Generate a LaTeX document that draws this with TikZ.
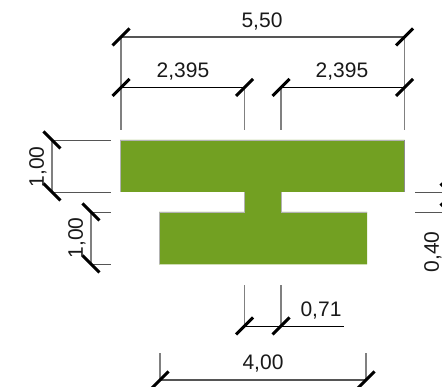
\documentclass[tikz,border=0pt]{standalone}
\usepackage{fontspec}
\setmainfont{Liberation Sans}
\definecolor{flange}{HTML}{72A022}
\definecolor{lineg}{HTML}{808080}
\definecolor{lined}{HTML}{555555}
\tikzset{
  dimtext/.style={font=\fontsize{21}{21}\selectfont,text=black!90,inner sep=0pt},
  extline/.style={draw=lineg,line width=1.1pt},
  dimline/.style={draw=lined,line width=1.1pt},
  thinline/.style={draw=black,line width=.9pt},
  sideline/.style={draw=lined,line width=.9pt},
  tickmark/.style={draw=black,line width=2.9pt},
  steel/.style={fill=flange,draw=none},
  rim/.style={draw=black!30,line width=.6pt}
}
\newcommand{\tickup}[1]{\draw[tickmark] ([shift={(-8.5,8.5)}]#1) -- ([shift={(8.5,-8.5)}]#1);}
\newcommand{\tickdn}[1]{\draw[tickmark] ([shift={(-8.5,-8.5)}]#1) -- ([shift={(8.5,8.5)}]#1);}
\begin{document}
\begin{tikzpicture}[x=1pt,y=-1pt]
\useasboundingbox (0,0) rectangle (442,387);
\clip (0,0) rectangle (442,387);
% section
\fill[steel] (120,140) -- (404.5,140) -- (404.5,192) -- (281.5,192) -- (281.5,212) -- (367,212) -- (367,264.5) -- (159,264.5) -- (159,212) -- (244,212) -- (244,192) -- (120,192) -- cycle;
\draw[rim] (120,192) -- (120,140) -- (404.5,140);
\draw[draw=black!45,line width=.7pt] (404.8,140) -- (404.8,192);
\draw[rim] (159,264) -- (159,212) -- (244,212) -- (244,192);
\draw[rim] (281.5,192) -- (281.5,212) -- (367,212);
% coordinates
\coordinate (aL) at (121,37);
\coordinate (aR) at (404.5,37);
\coordinate (bL) at (121,87.5);
\coordinate (bM) at (244.5,87.5);
\coordinate (cM) at (281,87.5);
\coordinate (cR) at (404.5,87.5);
\coordinate (aLe) at (121,130);
\coordinate (aRe) at (404.5,130);
\coordinate (bMe) at (244.5,130);
\coordinate (cMe) at (281,130);
\coordinate (dT) at (52,140);
\coordinate (dB) at (52,192);
\coordinate (dTe) at (111,140);
\coordinate (dBe) at (111,192);
\coordinate (eT) at (91,212);
\coordinate (eB) at (91,264);
\coordinate (eTe) at (111,212);
\coordinate (eBe) at (111,264);
\coordinate (fT) at (449,192);
\coordinate (fB) at (449,212);
\coordinate (fTe) at (415,192);
\coordinate (fBe) at (415,212);
\coordinate (gL) at (244.5,326);
\coordinate (gR) at (281,326);
\coordinate (gE) at (344,326);
\coordinate (gLe) at (244.5,285);
\coordinate (gRe) at (281,285);
\coordinate (hL) at (160,380);
\coordinate (hR) at (366,380);
\coordinate (hLe) at (160,353);
\coordinate (hRe) at (366,353);
% extension lines
\draw[extline] (aL) -- (aLe);
\draw[extline] (aR) -- (aRe);
\draw[extline] (bM) -- (bMe);
\draw[extline] (cM) -- (cMe);
\draw[extline] (dT) -- (dB);
\draw[extline] (eT) -- (eB);
\draw[extline] (gL) -- (gLe);
\draw[extline] (gR) -- (gRe);
\draw[extline] (hL) -- (hLe);
\draw[extline] (hR) -- (hRe);
% dimension lines
\draw[dimline] (aL) -- (aR);
\draw[dimline] (hL) -- (hR);
\draw[thinline] (bL) -- (bM);
\draw[thinline] (cM) -- (cR);
\draw[thinline] (gL) -- (gE);
\draw[sideline] (dT) -- (dTe);
\draw[sideline] (dB) -- (dBe);
\draw[sideline] (eT) -- (eTe);
\draw[sideline] (eB) -- (eBe);
\draw[sideline] (fT) -- (fTe);
\draw[sideline] (fB) -- (fBe);
% ticks
\tickup{aL}\tickup{aR}\tickup{bL}\tickup{bM}\tickup{cM}\tickup{cR}
\tickup{gL}\tickup{gR}\tickup{hL}\tickup{hR}
\tickdn{dT}\tickdn{dB}\tickdn{eT}\tickdn{eB}\tickdn{fT}\tickdn{fB}
% labels
\node[dimtext] (t1) at (262,22) {5,50};
\node[dimtext] (t2) at (183,72) {2,395};
\node[dimtext] (t3) at (342,72) {2,395};
\node[dimtext,rotate=90] (t4) at (38,167) {1,00};
\node[dimtext,rotate=90] (t5) at (77,238) {1,00};
\node[dimtext,rotate=90] (t6) at (433,252) {0,40};
\node[dimtext] (t7) at (321,311) {0,71};
\node[dimtext] (t8) at (263,364) {4,00};
\end{tikzpicture}
\end{document}
